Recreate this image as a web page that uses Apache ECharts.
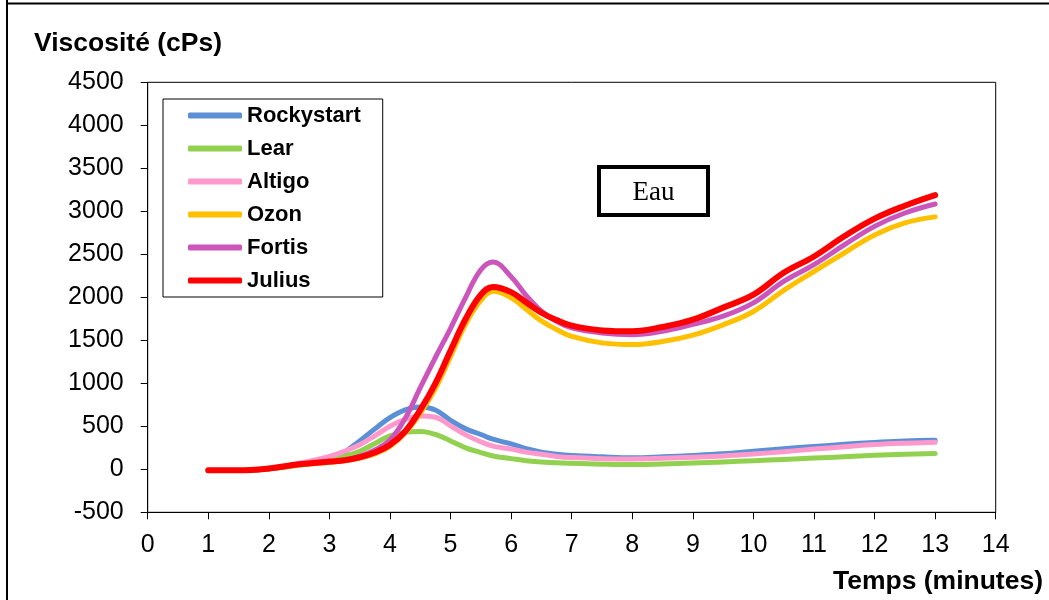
<!DOCTYPE html>
<html><head><meta charset="utf-8">
<script src="https://cdn.jsdelivr.net/npm/echarts@6/dist/echarts.min.js"></script>
<style>html,body{margin:0;padding:0;background:#fff}#c{width:1049px;height:600px}</style>
</head><body><div id="c"></div>
<script>
const times = [1,1.5,2,2.5,3,3.25,3.5,3.75,4,4.25,4.5,4.75,5,5.25,5.5,5.7,6,6.25,6.5,6.75,7,7.5,8,8.5,9,9.5,10,10.5,11,11.5,12,12.5,13];
const rockystart = [-15,-15,5,55,110,200,330,470,600,690,725,690,570,470,405,350,295,240,200,175,160,145,135,145,160,180,210,240,265,290,312,330,337];
const lear = [-15,-15,5,50,105,150,210,300,390,430,440,405,330,250,195,155,124,100,86,76,70,60,55,62,72,85,100,115,130,147,163,175,183];
const altigo = [-15,-15,10,70,150,210,285,390,500,580,620,605,505,400,320,270,235,200,175,150,136,124,121,128,140,155,178,205,235,262,287,303,314];
const ozon = [-15,-15,5,50,80,100,130,180,265,420,650,940,1310,1690,1965,2070,1995,1860,1725,1625,1545,1470,1450,1485,1560,1680,1835,2080,2300,2515,2725,2865,2935];
const fortis = [-15,-15,5,55,85,105,150,225,340,590,950,1300,1640,2000,2320,2410,2240,2020,1840,1720,1645,1585,1565,1605,1685,1780,1935,2185,2380,2610,2825,2980,3085];
const julius = [-12,-12,10,58,90,105,140,195,285,440,690,1000,1380,1750,2030,2120,2060,1940,1820,1735,1670,1615,1605,1655,1740,1880,2030,2285,2475,2710,2915,3065,3188];
const seriesNames = ['Rockystart','Lear','Altigo','Ozon','Fortis','Julius'];
const seriesData = [rockystart, lear, altigo, ozon, fortis, julius];
const colors = ['#5B8FD6','#92D050','#FF99CC','#FFC000','#CC55BB','#FF0000'];
const yTitle = 'Viscosité (cPs)';
const xTitle = 'Temps (minutes)';
const boxText = 'Eau';

const chart = echarts.init(document.getElementById('c'), null, {renderer:'canvas'});
const series = seriesNames.map((n,i)=>({
  name:n, type:'line', smooth:0.4, symbol:'none',
  data: times.map((t,j)=>[t, seriesData[i][j]]),
  lineStyle:{color:colors[i], width: i===5?6:5, cap:'round', join:'round'},
  itemStyle:{color:colors[i]},
  z: 2+i
}));
chart.setOption({
  animation:false,
  backgroundColor:'#fff',
  grid:{left:147.7, right:53.3, top:82.3, bottom:87.7, show:true, borderColor:'#000', borderWidth:1, backgroundColor:'transparent'},
  xAxis:{type:'value', min:0, max:14, interval:1,
    axisLine:{show:true, onZero:false, lineStyle:{color:'#000', width:1}},
    axisTick:{show:true, length:7, lineStyle:{color:'#000'}},
    axisLabel:{fontFamily:'Liberation Sans, Arial', fontSize:25, color:'#000', margin:20, formatter:v=>String(v)},
    splitLine:{show:false}},
  yAxis:{type:'value', min:-500, max:4500, interval:500,
    axisLine:{show:true, onZero:false, lineStyle:{color:'#000', width:1}},
    axisTick:{show:true, length:7, lineStyle:{color:'#000'}},
    axisLabel:{fontFamily:'Liberation Sans, Arial', fontSize:25, color:'#000', margin:24, formatter:v=>String(v)},
    splitLine:{show:false}},
  legend:{
    orient:'vertical', left:163, top:99,
    data:seriesNames,
    icon:'roundRect', itemWidth:54, itemHeight:6, itemGap:0,
    padding:[0,22,0,25],
    borderColor:'#000', borderWidth:1, backgroundColor:'#fff',
    textStyle:{fontFamily:'Liberation Sans, Arial', fontWeight:'bold', fontSize:22, color:'#000', lineHeight:33, padding:[0,0,0,0]},
    itemStyle:{borderWidth:0}
  },
  graphic:[
    {type:'line', shape:{x1:7, y1:0, x2:7, y2:600}, style:{stroke:'#000', lineWidth:2}},
    {type:'line', shape:{x1:6, y1:3.5, x2:1049, y2:3.5}, style:{stroke:'#000', lineWidth:2}},
    {type:'text', left:34, top:30, style:{text:yTitle, fontFamily:'Liberation Sans, Arial', fontWeight:'bold', fontSize:26.5, fill:'#000'}},
    {type:'text', right:6, top:568, style:{text:xTitle, fontFamily:'Liberation Sans, Arial', fontWeight:'bold', fontSize:26.5, fill:'#000'}},
    {type:'rect', shape:{x:599, y:167, width:109, height:48}, style:{fill:'#fff', stroke:'#000', lineWidth:4}, z:20},
    {type:'text', x:653.5, y:193, style:{text:boxText, fontFamily:'Liberation Serif, Times New Roman', fontSize:27, fill:'#000', align:'center', verticalAlign:'middle'}, z:21}
  ],
  series: series
});
</script></body></html>
